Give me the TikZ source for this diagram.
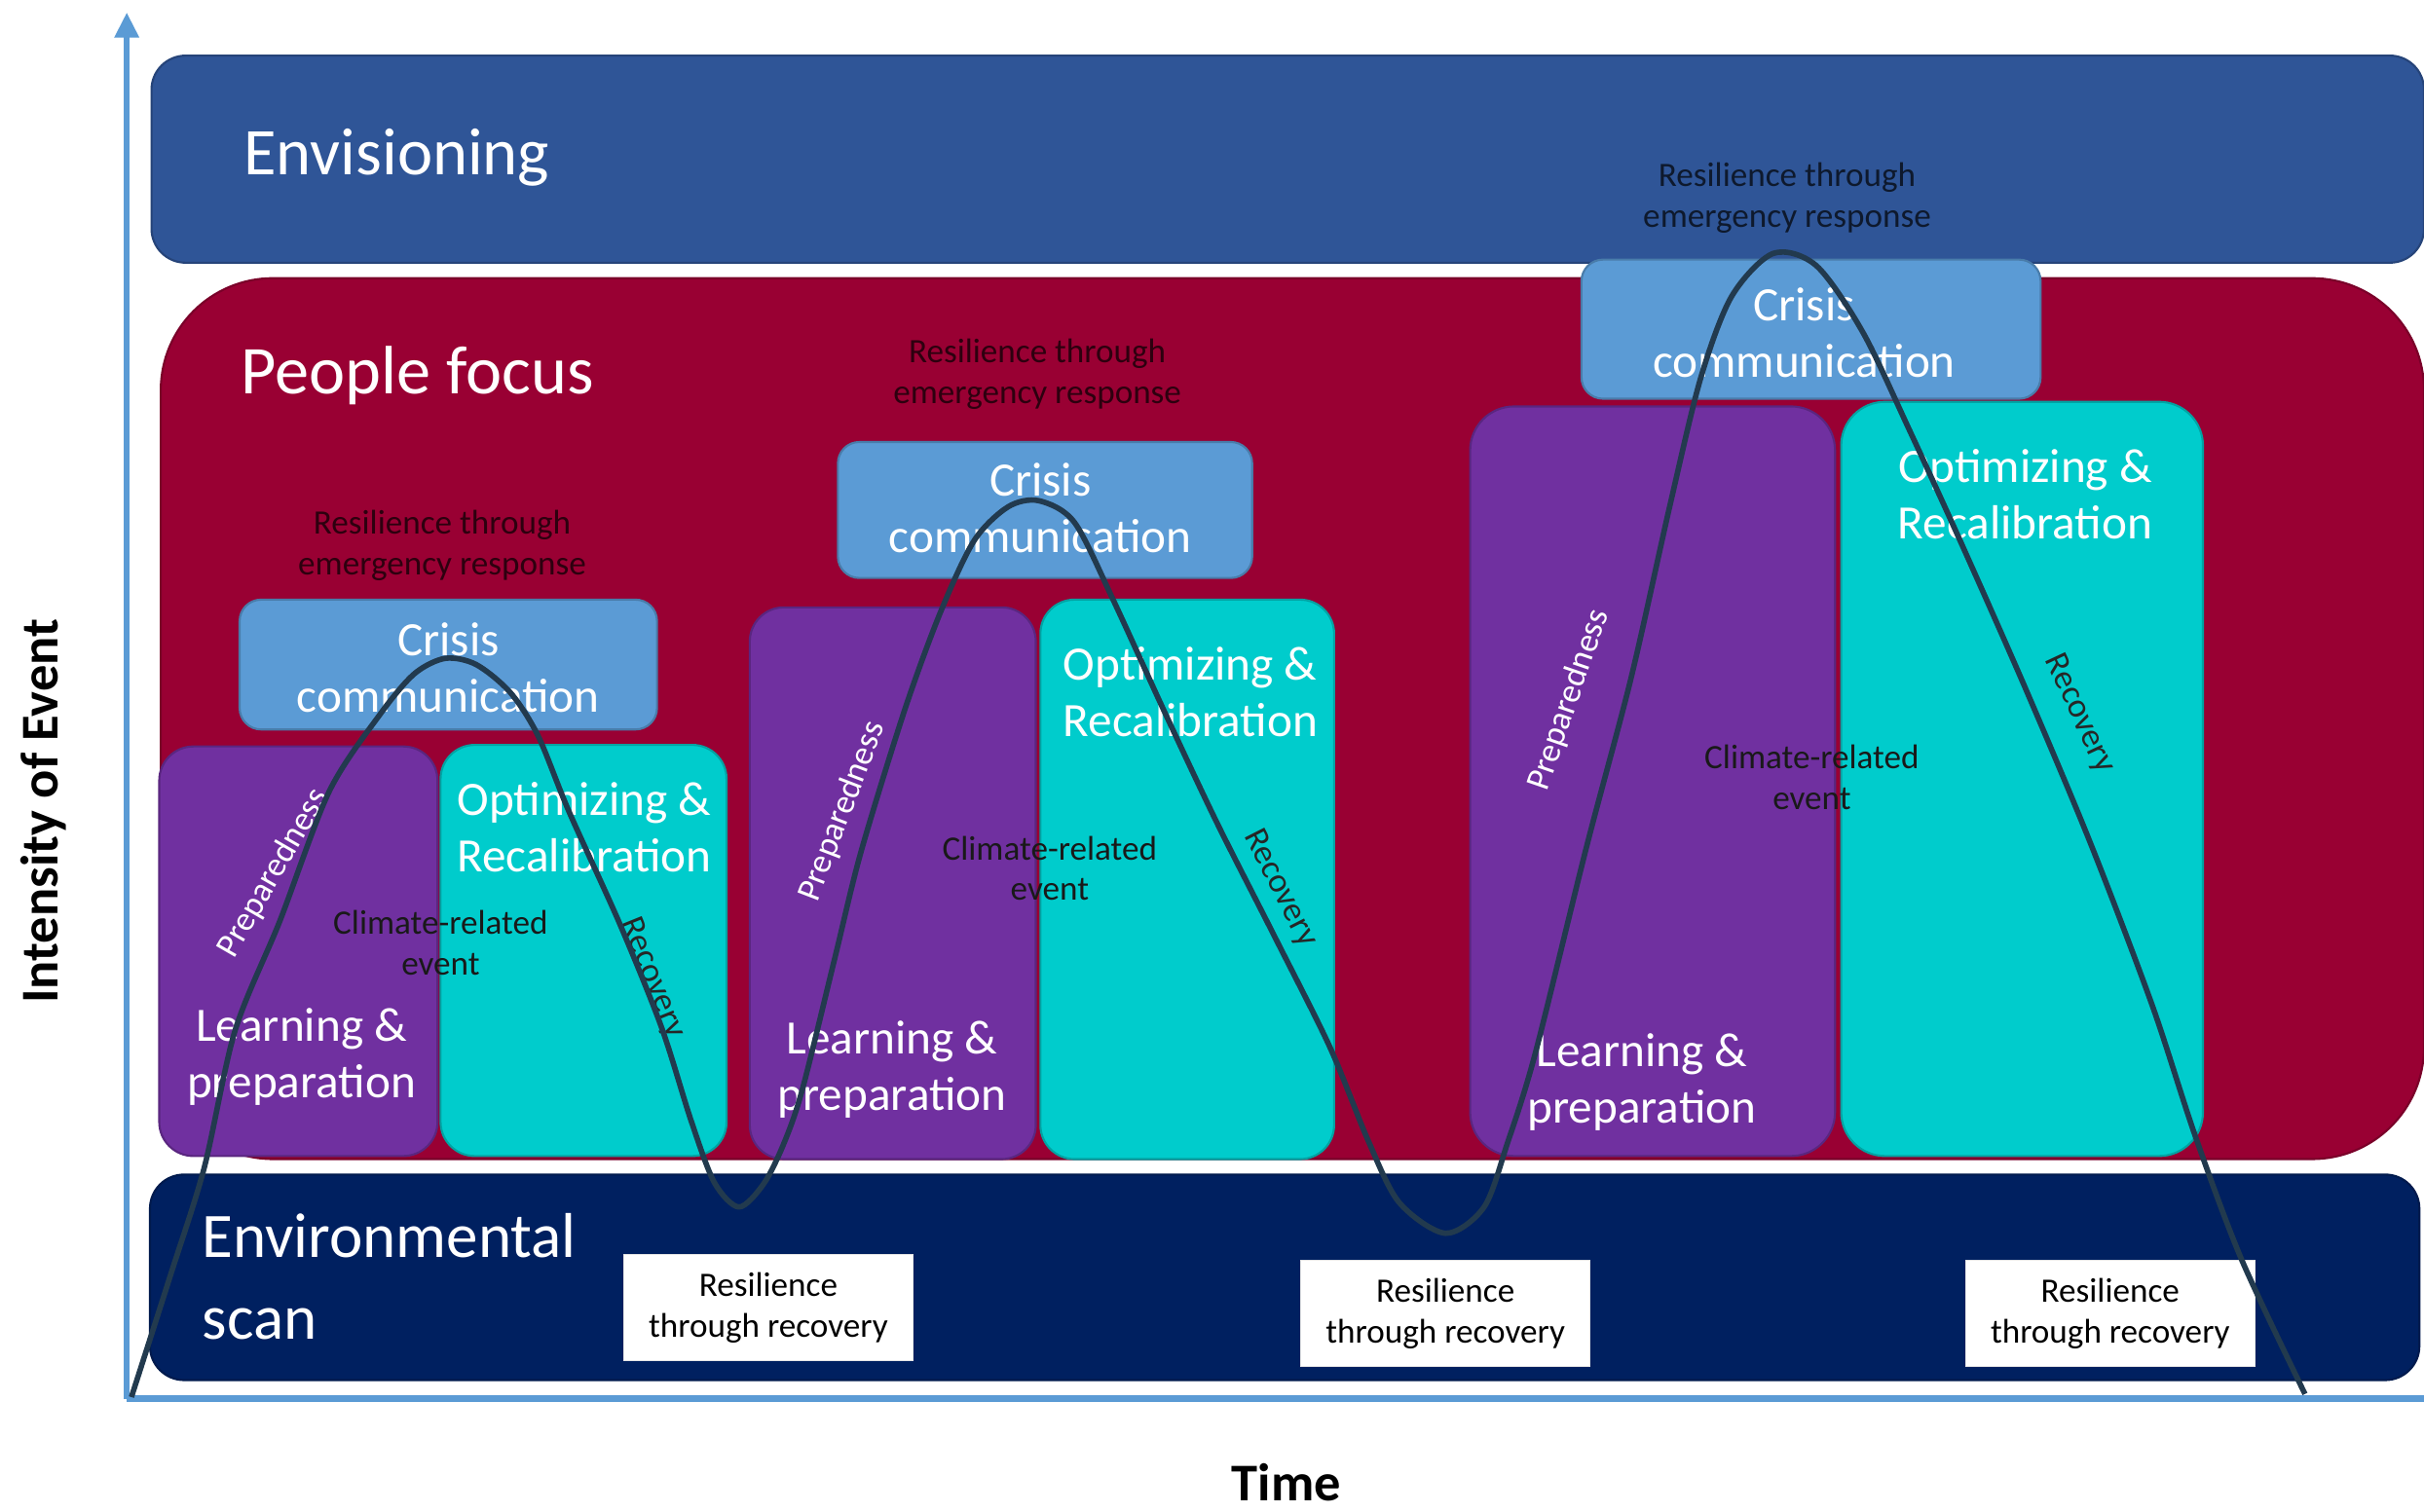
\documentclass[tikz,border=0pt]{standalone}
\usepackage{fontspec}
\setmainfont{Carlito}
\usetikzlibrary{arrows.meta, fit, positioning}

\definecolor{envblue}{HTML}{2F5597}
\definecolor{peoplered}{HTML}{990033}
\definecolor{scannavy}{HTML}{002060}
\definecolor{crisisblue}{HTML}{5B9BD5}
\definecolor{learnpurple}{HTML}{7030A0}
\definecolor{optcyan}{HTML}{00CCCC}
\definecolor{curvegray}{HTML}{223A4E}
\definecolor{axisblue}{HTML}{5B9BD5}

\begin{document}
\begin{tikzpicture}[x=0.015874cm, y=-0.015874cm,
    axis/.style={color=axisblue, line width=1.8pt},
    band/.style={inner sep=0pt, line width=0.6pt},
    title/.style={text=white, anchor=west, font=\fontsize{19.5}{24}\selectfont},
    boxtext/.style={text=white, align=center, font=\fontsize{14}{16.5}\selectfont},
    resp/.style={text=black, text opacity=0.7, align=center, font=\fontsize{10}{11.8}\selectfont},
    event/.style={text=black!90, align=center, font=\fontsize{10}{11.8}\selectfont},
    phase/.style={font=\fontsize{10}{12}\selectfont},
    recbox/.style={fill=white, draw=black!10, minimum width=2.97cm, minimum height=1.09cm,
        align=center, font=\fontsize{10}{12}\selectfont},
    curve/.style={color=curvegray, line width=1.6pt, line join=round}]
    \useasboundingbox (0,0) rectangle (1568,978);

    \coordinate (origin) at (82,905);
    \coordinate (ytop) at (82,8);
    \coordinate (xend) at (1568,905);
    \draw[axis] (origin) -- (xend);
    \draw[axis, -{Triangle[length=0.26cm, width=0.24cm]}] (origin) -- (ytop);
    \node[rotate=90, font=\fontsize{15.5}{18}\selectfont\bfseries] (intensity) at (28,525) {Intensity of Event};
    \node[inner sep=0pt, font=\fontsize{15.5}{18}\selectfont\bfseries] (time) at (832,959) {Time};

    \node[band, fill=envblue, draw=envblue!80!black, rounded corners=0.35cm, fit={(98,36) (1568,170)}] (envision) {};
    \node[band, fill=peoplered, draw=peoplered!80!black, rounded corners=1.15cm, fit={(104,180) (1568,750)}] (people) {};
    \node[band, fill=scannavy, draw=scannavy!80!black, rounded corners=0.35cm, fit={(97,760) (1565,893)}] (scan) {};
    \node[title] (envisiontxt) at (150,102) {Envisioning};
    \node[title, font=\fontsize{20}{24}\selectfont] (peopletxt) at (148,243) {People focus};
    \node[title, align=left, font=\fontsize{18.5}{24}\selectfont] (scantxt) at (123,826) {Environmental\\scan};

    \node[band, fill=crisisblue, draw=crisisblue!80!black, rounded corners=0.22cm, fit={(155,388) (425,472)}] (crisisA) {};
    \node[band, fill=learnpurple, draw=learnpurple!80!black, rounded corners=0.35cm, fit={(103,483) (283,748)}] (learnA) {};
    \node[band, fill=optcyan, draw=optcyan!80!black, rounded corners=0.35cm, fit={(285,482) (470,748)}] (optA) {};

    \node[band, fill=crisisblue, draw=crisisblue!80!black, rounded corners=0.22cm, fit={(542,286) (810,374)}] (crisisB) {};
    \node[band, fill=learnpurple, draw=learnpurple!80!black, rounded corners=0.35cm, fit={(485,393) (670,750)}] (learnB) {};
    \node[band, fill=optcyan, draw=optcyan!80!black, rounded corners=0.35cm, fit={(673,388) (863,750)}] (optB) {};

    \node[band, fill=crisisblue, draw=crisisblue!80!black, rounded corners=0.22cm, fit={(1023,168) (1320,258)}] (crisisC) {};
    \node[band, fill=learnpurple, draw=learnpurple!80!black, rounded corners=0.45cm, fit={(951,263) (1187,748)}] (learnC) {};
    \node[band, fill=optcyan, draw=optcyan!80!black, rounded corners=0.45cm, fit={(1191,260) (1425,748)}] (optC) {};

    \node[boxtext] (crisisAtxt) at (290,432) {Crisis\\communication};
    \node[boxtext] (learnAtxt) at (195,684) {Learning \&\\preparation};
    \node[boxtext] (optAtxt) at (378,535) {Optimizing \&\\Recalibration};
    \node[resp] (respA) at (286,353) {Resilience through\\emergency response};
    \node[event] (eventA) at (285,610) {Climate-related\\event};
    \node[phase, text=white, rotate=60] (prepA) at (177,565) {Preparedness};
    \node[phase, text=black!85, rotate=-68] (recovA) at (422,633) {Recovery};

    \node[boxtext] (crisisBtxt) at (673,329) {Crisis\\communication};
    \node[boxtext] (learnBtxt) at (577,692) {Learning \&\\preparation};
    \node[boxtext] (optBtxt) at (770,448) {Optimizing \&\\Recalibration};
    \node[resp] (respB) at (671,242) {Resilience through\\emergency response};
    \node[event] (eventB) at (679,562) {Climate-related\\event};
    \node[phase, text=white, rotate=69] (prepB) at (545,525) {Preparedness};
    \node[phase, text=black!85, rotate=-63] (recovB) at (828,575) {Recovery};

    \node[boxtext] (crisisCtxt) at (1167,215) {Crisis\\communication};
    \node[boxtext] (learnCtxt) at (1062,700) {Learning \&\\preparation};
    \node[boxtext] (optCtxt) at (1310,320) {Optimizing \&\\Recalibration};
    \node[resp] (respC) at (1156,128) {Resilience through\\emergency response};
    \node[event] (eventC) at (1172,503) {Climate-related\\event};
    \node[phase, text=white, rotate=71] (prepC) at (1015,453) {Preparedness};
    \node[phase, text=black!85, rotate=-65] (recovC) at (1345,462) {Recovery};

    \node[recbox] (recA) at (497,846) {Resilience\\through recovery};
    \node[recbox] (recB) at (935,850) {Resilience\\through recovery};
    \node[recbox] (recC) at (1365,850) {Resilience\\through recovery};

    \draw[curve] plot[smooth, tension=0.5] coordinates {
        (85,904) (110,826) (132,756) (152,667) (181,596) (213,512) (246,462) (268,436)
        (288,426) (308,430) (330,448) (348,476) (368,525) (401,598) (428,665) (447,725)
        (462,765) (478,781) (494,766) (507,740) (519,705) (540,620) (557,551) (585,460)
        (608,397) (630,350) (652,328) (672,324) (695,338) (720,388) (753,460) (787,532)
        (824,605) (860,677) (885,738) (905,778) (935,798) (960,781) (975,740) (993,682)
        (1026,549) (1055,439) (1080,328) (1100,245) (1120,192) (1147,164) (1175,172)
        (1205,215) (1235,278) (1268,350) (1310,445) (1352,545) (1392,650) (1420,735)
        (1450,815) (1491,902)};
\end{tikzpicture}
\end{document}
